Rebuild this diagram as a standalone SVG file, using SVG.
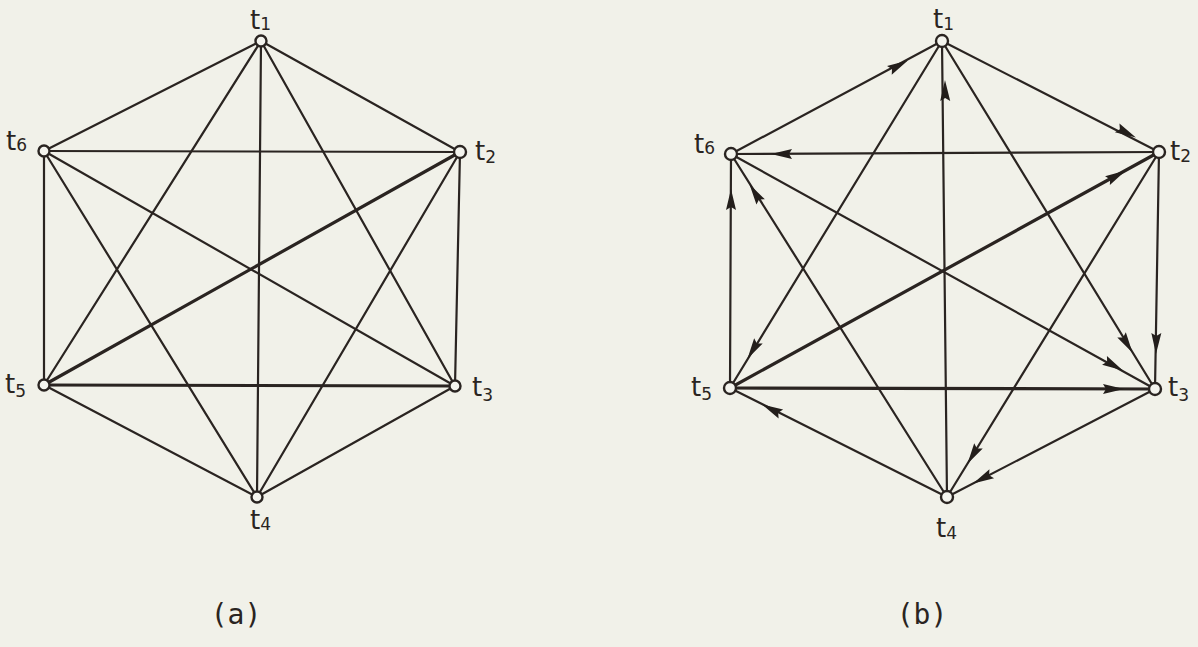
<svg xmlns="http://www.w3.org/2000/svg" xmlns:xlink="http://www.w3.org/1999/xlink" width="1198" height="647" viewBox="0 0 1198 647">
<style>
.bg{fill:#f1f1e9}
.e{stroke:#2a2421;stroke-width:2.2;fill:none;stroke-linecap:round}
.th{stroke-width:3.2}
.n{fill:#f4f4ee;stroke:#2a2421;stroke-width:2.4}
.lb{font-family:"DejaVu Sans","Liberation Sans",sans-serif;font-size:26px;fill:#2a2421}
.sb{font-size:17px}
.cap{font-family:"DejaVu Sans Mono","Liberation Mono",monospace;font-size:28px;fill:#2a2421}
.ah{fill:#231e1b}
</style>
<defs>
<path id="ah" class="ah" d="M1,0 L-20,-5 L-17,0 L-20,5 Z"/>
</defs>
<rect class="bg" x="0" y="0" width="1198" height="647"/>

<g id="connectors">
  <g id="edges-a">
    <line class="e" x1="261" y1="41" x2="460" y2="152"/>
    <line class="e" x1="261" y1="41" x2="455" y2="386"/>
    <line class="e" x1="261" y1="41" x2="257" y2="497"/>
    <line class="e" x1="261" y1="41" x2="44" y2="385"/>
    <line class="e" x1="261" y1="41" x2="44" y2="151"/>
    <line class="e" x1="460" y1="152" x2="455" y2="386"/>
    <line class="e" x1="460" y1="152" x2="257" y2="497"/>
    <line class="e th" x1="460" y1="152" x2="44" y2="385"/>
    <line class="e" x1="460" y1="152" x2="44" y2="151"/>
    <line class="e" x1="455" y1="386" x2="257" y2="497"/>
    <line class="e th" x1="455" y1="386" x2="44" y2="385"/>
    <line class="e" x1="455" y1="386" x2="44" y2="151"/>
    <line class="e" x1="257" y1="497" x2="44" y2="385"/>
    <line class="e" x1="257" y1="497" x2="44" y2="151"/>
    <line class="e" x1="44" y1="385" x2="44" y2="151"/>
  </g>
  <g id="edges-b">
    <line class="e" x1="731" y1="154" x2="942" y2="41"/>
    <line class="e" x1="947" y1="497" x2="942" y2="41"/>
    <line class="e" x1="942" y1="41" x2="1159" y2="152"/>
    <line class="e" x1="1159" y1="152" x2="731" y2="154"/>
    <line class="e" x1="730" y1="388" x2="731" y2="154"/>
    <line class="e" x1="947" y1="497" x2="731" y2="154"/>
    <line class="e th" x1="730" y1="388" x2="1159" y2="152"/>
    <line class="e" x1="1159" y1="152" x2="947" y2="497"/>
    <line class="e" x1="942" y1="41" x2="730" y2="388"/>
    <line class="e" x1="942" y1="41" x2="1155" y2="389"/>
    <line class="e" x1="1159" y1="152" x2="1155" y2="389"/>
    <line class="e" x1="731" y1="154" x2="1155" y2="389"/>
    <line class="e th" x1="730" y1="388" x2="1155" y2="389"/>
    <line class="e" x1="947" y1="497" x2="730" y2="388"/>
    <line class="e" x1="1155" y1="389" x2="947" y2="497"/>
  </g>
  <g id="arrowheads-b">
    <use xlink:href="#ah" href="#ah" transform="translate(907,61) rotate(-28.2)"/>
    <use xlink:href="#ah" href="#ah" transform="translate(945,81) rotate(-90.6)"/>
    <use xlink:href="#ah" href="#ah" transform="translate(1135,137) rotate(27.1)"/>
    <use xlink:href="#ah" href="#ah" transform="translate(772,154) rotate(180)"/>
    <use xlink:href="#ah" href="#ah" transform="translate(731,190) rotate(-90)"/>
    <use xlink:href="#ah" href="#ah" transform="translate(750,185) rotate(-122.2)"/>
    <use xlink:href="#ah" href="#ah" transform="translate(1125,171) rotate(-28.8)"/>
    <use xlink:href="#ah" href="#ah" transform="translate(968,463) rotate(121.6)"/>
    <use xlink:href="#ah" href="#ah" transform="translate(748,358) rotate(121.4)"/>
    <use xlink:href="#ah" href="#ah" transform="translate(1132,352) rotate(58.5)"/>
    <use xlink:href="#ah" href="#ah" transform="translate(1156,353) rotate(91)"/>
    <use xlink:href="#ah" href="#ah" transform="translate(1122,370) rotate(29)"/>
    <use xlink:href="#ah" href="#ah" transform="translate(1123,389) rotate(0)"/>
    <use xlink:href="#ah" href="#ah" transform="translate(763,405) rotate(206.7)"/>
    <use xlink:href="#ah" href="#ah" transform="translate(974,483) rotate(152.6)"/>
  </g>
</g>

<g id="a-t1"><circle class="n" cx="261" cy="41" r="5.5"/><text class="lb" x="250" y="29">t<tspan class="sb" dy="1">1</tspan></text></g>
<g id="a-t2"><circle class="n" cx="460" cy="152" r="6"/><text class="lb" x="475" y="160">t<tspan class="sb" dy="3">2</tspan></text></g>
<g id="a-t3"><circle class="n" cx="455" cy="386" r="5.5"/><text class="lb" x="472" y="396">t<tspan class="sb" dy="5">3</tspan></text></g>
<g id="a-t4"><circle class="n" cx="257" cy="497" r="5.5"/><text class="lb" x="250" y="529">t<tspan class="sb" dy="1">4</tspan></text></g>
<g id="a-t5"><circle class="n" cx="44" cy="385" r="5.5"/><text class="lb" x="5" y="393">t<tspan class="sb" dy="4">5</tspan></text></g>
<g id="a-t6"><circle class="n" cx="44" cy="151" r="5.5"/><text class="lb" x="6" y="150">t<tspan class="sb" dy="1">6</tspan></text></g>
<g id="cap-a"><text class="cap" x="236" y="624" text-anchor="middle">(a)</text></g>

<g id="b-t1"><circle class="n" cx="942" cy="41" r="6"/><text class="lb" x="933" y="28">t<tspan class="sb" dy="2">1</tspan></text></g>
<g id="b-t2"><circle class="n" cx="1159" cy="152" r="6"/><text class="lb" x="1170" y="160">t<tspan class="sb" dy="2">2</tspan></text></g>
<g id="b-t3"><circle class="n" cx="1155" cy="389" r="6"/><text class="lb" x="1168" y="396">t<tspan class="sb" dy="5">3</tspan></text></g>
<g id="b-t4"><circle class="n" cx="947" cy="497" r="6"/><text class="lb" x="936" y="537">t<tspan class="sb" dy="2">4</tspan></text></g>
<g id="b-t5"><circle class="n" cx="730" cy="388" r="6"/><text class="lb" x="691" y="396">t<tspan class="sb" dy="4">5</tspan></text></g>
<g id="b-t6"><circle class="n" cx="731" cy="154" r="6"/><text class="lb" x="694" y="153">t<tspan class="sb" dy="1">6</tspan></text></g>
<g id="cap-b"><text class="cap" x="922" y="624" text-anchor="middle">(b)</text></g>
</svg>
